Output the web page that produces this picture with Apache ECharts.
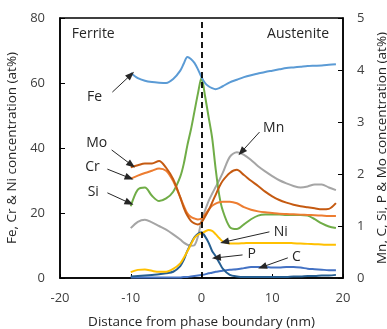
<!DOCTYPE html>
<html><head><meta charset="utf-8">
<script src="https://cdn.jsdelivr.net/npm/echarts@6/dist/echarts.min.js"></script>
<style>html,body{margin:0;padding:0;background:#fff}#c{width:387px;height:329px}</style>
</head><body><div id="c"></div>
<script>
var distance = [-10,-9,-8,-7,-6,-5,-4,-3,-2.5,-2,-1.5,-1,-0.5,0,0.5,1,1.5,2,2.5,3,4,5,6,7,8,9,10,11,12,13,14,15,16,17,18,19];
// left axis (at%)
var fe = [63.1,61.5,60.7,60.3,60.1,60.0,61.2,63.8,66.0,68.0,67.4,66.2,64.2,61.8,60.0,59.0,58.4,58.1,58.4,59.0,60.2,61.0,61.8,62.4,62.9,63.4,63.8,64.2,64.6,64.8,65.0,65.2,65.3,65.4,65.6,65.8];
var cr = [30.6,31.5,32.3,33.0,33.7,33.0,29.8,24.8,22.2,19.9,18.8,18.3,18.0,18.3,19.5,21.0,22.2,22.9,23.3,23.5,23.5,23.0,21.8,21.0,20.5,20.2,20.0,19.8,19.7,19.6,19.5,19.4,19.3,19.2,19.1,19.1];
var ni = [1.8,2.5,2.6,2.2,1.9,1.9,2.8,4.5,6.2,8.2,10.3,12.3,13.3,13.8,14.3,14.8,14.5,13.5,12.3,11.3,10.6,10.6,10.7,10.8,10.8,10.8,10.8,10.8,10.8,10.7,10.6,10.5,10.4,10.3,10.2,10.2];
// right axis (at%)
var mn = [0.96,1.08,1.12,1.07,1.0,0.93,0.84,0.74,0.68,0.64,0.62,0.63,0.8,1.1,1.3,1.48,1.62,1.75,1.88,2.02,2.33,2.42,2.37,2.27,2.15,2.05,1.96,1.88,1.82,1.77,1.74,1.76,1.8,1.8,1.74,1.69];
var cC = [0.01,0.01,0.01,0.01,0.01,0.01,0.01,0.01,0.02,0.02,0.03,0.04,0.05,0.06,0.07,0.09,0.1,0.12,0.13,0.14,0.16,0.17,0.19,0.21,0.21,0.21,0.2,0.2,0.21,0.21,0.2,0.18,0.17,0.16,0.15,0.15];
var si = [1.38,1.70,1.74,1.58,1.48,1.53,1.66,1.95,2.2,2.55,2.85,3.2,3.55,3.85,3.5,3.1,2.7,2.1,1.6,1.3,0.98,0.94,1.03,1.13,1.2,1.22,1.22,1.22,1.21,1.21,1.21,1.2,1.13,1.05,0.99,0.96];
var p = [0.03,0.04,0.05,0.06,0.07,0.09,0.12,0.23,0.35,0.52,0.66,0.78,0.85,0.88,0.8,0.68,0.52,0.42,0.3,0.18,0.06,0.03,0.02,0.02,0.02,0.02,0.02,0.02,0.02,0.03,0.03,0.04,0.04,0.05,0.05,0.06];
var mo = [2.13,2.17,2.2,2.2,2.25,2.12,1.9,1.55,1.35,1.2,1.1,1.05,1.03,1.07,1.18,1.3,1.45,1.6,1.75,1.87,2.02,2.08,1.98,1.87,1.77,1.66,1.57,1.5,1.45,1.41,1.38,1.36,1.34,1.32,1.33,1.44];

var xTicks = [-20,-10,0,10,20];
var leftTicks = [0,20,40,60,80];
var rightTicks = [0,1,2,3,4,5];

// annotation labels and arrows (in x / left-axis data units)
var labelNames = ['Fe','Mo','Cr','Si','Mn','Ni','P','C'];
var labelPos = [[-15.1,55.7],[-14.8,41.5],[-15.4,34.2],[-15.3,26.5],[10.2,46.2],[11.2,14.2],[7.1,7.4],[13.4,6.5]];
var arrowFrom = [[-12.6,57.2],[-12.7,39.4],[-13.3,33.5],[-13.3,26.2],[8.2,44.9],[9.6,14.2],[5.8,7.1],[12.2,6.2]];
var arrowTo = [[-10.0,62.5],[-9.9,34.8],[-10.2,30.8],[-10.2,23.1],[5.65,38.8],[3.25,11.1],[2.1,6.2],[8.6,3.4]];
var phaseNames = ['Ferrite','Austenite'];
var phasePos = [[-18.4,75.1],[18.1,75.1]];
var boundaryX = 0;

function pairs(arr){ return distance.map(function(x,i){ return [x, arr[i]]; }); }

var FONT = '"Open Sans", "Noto Sans", sans-serif';
var chart = echarts.init(document.getElementById('c'), null, {renderer:'canvas'});

function mkSeries(name, arr, color, yIdx, z){
  return {name:name, type:'line', data:pairs(arr), yAxisIndex:yIdx, showSymbol:false, symbol:'none',
    smooth:0.3, lineStyle:{color:color, width:2}, itemStyle:{color:color}, z:z||2, animation:false, silent:true};
}

var arrowLines = [];
for (var i=0;i<arrowFrom.length;i++){
  arrowLines.push([{coord:arrowFrom[i]},{coord:arrowTo[i]}]);
}
var markPointData = [];
for (var j=0;j<labelNames.length;j++){
  markPointData.push({coord:labelPos[j], value:labelNames[j], label:{formatter:labelNames[j]}});
}
markPointData.push({coord:phasePos[0], value:phaseNames[0], label:{formatter:phaseNames[0], position:'right', distance:0}});
markPointData.push({coord:phasePos[1], value:phaseNames[1], label:{formatter:phaseNames[1], position:'left', distance:0}});

var series = [
  mkSeries('Mn', mn, '#A5A5A5', 1),
  mkSeries('C', cC, '#4472C4', 1),
  mkSeries('P', p, '#255E91', 1),
  mkSeries('Ni', ni, '#FFC000', 0),
  mkSeries('Si', si, '#70AD47', 1),
  mkSeries('Cr', cr, '#ED7D31', 0),
  mkSeries('Mo', mo, '#C55A11', 1),
  mkSeries('Fe', fe, '#5B9BD5', 0)
];
series[7].markLine = {silent:true, animation:false, symbol:['none','triangle'], symbolSize:[7,9],
  label:{show:false}, lineStyle:{color:'#262626', width:1, type:'solid'}, data:arrowLines};
series[7].markPoint = {silent:true, animation:false, symbol:'circle', symbolSize:1, itemStyle:{color:'rgba(0,0,0,0)'},
  label:{show:true, position:'inside', color:'#262626', fontSize:14, fontFamily:FONT}, data:markPointData};
series[6].markLine = {silent:true, animation:false, symbol:['none','none'], label:{show:false},
  data:[{xAxis:boundaryX, lineStyle:{color:'#000', width:1.8, type:[6,4]}}]};

chart.setOption({
  animation:false,
  backgroundColor:'#fff',
  grid:{left:60, right:44, top:18, bottom:51, containLabel:false, outerBoundsMode:'none',
    show:true, borderColor:'#000', borderWidth:1.5, backgroundColor:'transparent'},
  xAxis:{type:'value', min:-20, max:20, interval:10,
    name:'Distance from phase boundary (nm)', nameLocation:'middle', nameGap:37,
    nameTextStyle:{fontSize:13.5, color:'#262626', fontFamily:FONT},
    axisLine:{onZero:false, lineStyle:{color:'#000', width:1.5}},
    axisTick:{inside:true, length:4, lineStyle:{color:'#000'}},
    axisLabel:{margin:14, fontSize:13, color:'#404040', fontFamily:FONT,
      formatter:function(v){ return xTicks.indexOf(v)>=0 ? String(v) : ''; }},
    splitLine:{show:false}},
  yAxis:[
    {type:'value', min:0, max:80, interval:20, position:'left',
     name:'Fe, Cr & Ni concentration (at%)', nameLocation:'middle', nameGap:35, nameRotate:90,
     nameTextStyle:{fontSize:13.5, color:'#262626', fontFamily:FONT},
     axisLine:{show:true, onZero:false, lineStyle:{color:'#000', width:1.5}},
     axisTick:{show:true, inside:true, length:5, lineStyle:{color:'#000'}},
     axisLabel:{margin:15, fontSize:13, color:'#404040', fontFamily:FONT,
       formatter:function(v){ return leftTicks.indexOf(v)>=0 ? String(v) : ''; }},
     splitLine:{show:false}},
    {type:'value', min:0, max:5, interval:1, position:'right',
     name:'Mn, C, Si, P & Mo concentration (at%)', nameLocation:'middle', nameGap:29, nameRotate:90,
     nameTextStyle:{fontSize:13.5, color:'#262626', fontFamily:FONT},
     axisLine:{show:true, onZero:false, lineStyle:{color:'#000', width:1.5}},
     axisTick:{show:true, inside:true, length:5, lineStyle:{color:'#000'}},
     axisLabel:{margin:14, fontSize:13, color:'#404040', fontFamily:FONT,
       formatter:function(v){ return rightTicks.indexOf(v)>=0 ? String(v) : ''; }},
     splitLine:{show:false}}
  ],
  series:series
});
</script></body></html>
